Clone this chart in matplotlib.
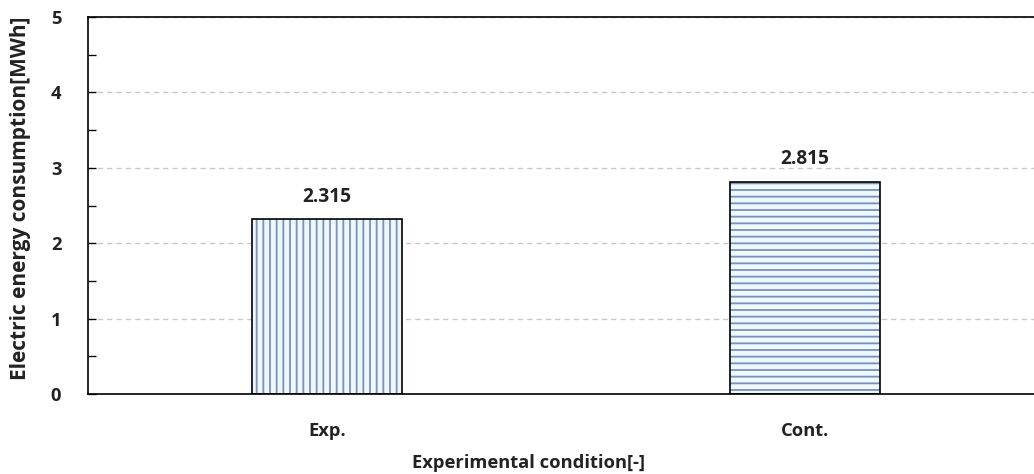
import matplotlib
matplotlib.use("Agg")
import matplotlib.pyplot as plt
import numpy as np

# Data
conditions = ["Exp.", "Cont."]
consumption = [2.315, 2.815]
hatches = ["|||", "---"]

y_ticks = [0, 1, 2, 3, 4, 5]

plt.rcParams["font.family"] = ["Open Sans", "DejaVu Sans"]
plt.rcParams["font.weight"] = "bold"
plt.rcParams["hatch.linewidth"] = 1.1

fig = plt.figure(figsize=(1034 / 120, 474 / 120), dpi=120)
ax = fig.add_axes([88 / 1034, 1 - 394 / 474, 956 / 1034, 377 / 474])

x = np.arange(len(conditions))
width = 0.313
text_color = "#222222"

# Pale fill, hatch layer, then a plain black outline on top
ax.bar(x, consumption, width=width, color="#eef7fc", linewidth=0, zorder=2)
for xi, val, h in zip(x, consumption, hatches):
    ax.bar(xi, val, width=width, color="none", edgecolor="#7894ba",
           hatch=h, linewidth=0, zorder=3)
ax.bar(x, consumption, width=width, color="none", edgecolor="black",
       linewidth=1.0, zorder=4)

for xi, val in zip(x, consumption):
    ax.text(xi, val + 0.3, f"{val:.3f}", ha="center", va="center",
            fontsize=11.5, fontweight="bold", color=text_color)

ax.set_xlim(-0.5, 1.5)
ax.set_ylim(0, 5)
ax.set_yticks(y_ticks)
ax.set_yticks(np.arange(0.5, 5, 1.0), minor=True)
ax.yaxis.grid(True, which="major", linestyle=(0, (4, 3)), color="#c8c8c8",
              linewidth=0.8, zorder=0)
ax.set_axisbelow(True)

ax.tick_params(axis="y", which="both", direction="in", length=5, width=0.8,
               labelsize=11, pad=16)
ax.tick_params(axis="x", length=0, labelsize=11, pad=17)
ax.set_xticks(x)
ax.set_xticklabels(conditions)
for lbl in ax.get_xticklabels() + ax.get_yticklabels():
    lbl.set_fontweight("bold")
    lbl.set_color(text_color)

ax.set_xlabel("Experimental condition[-]", fontsize=11, fontweight="bold",
              color=text_color)
ax.xaxis.set_label_coords(0.461, -0.16)
ax.set_ylabel("Electric energy consumption[MWh]", fontsize=12.5,
              fontweight="bold", color=text_color)
ax.yaxis.set_label_coords(-0.060, 0.52)

for side in ["left", "bottom", "top"]:
    ax.spines[side].set_linewidth(1.0)
    ax.spines[side].set_color("black")
ax.spines["right"].set_visible(False)

fig.savefig("out.png", dpi=120)
